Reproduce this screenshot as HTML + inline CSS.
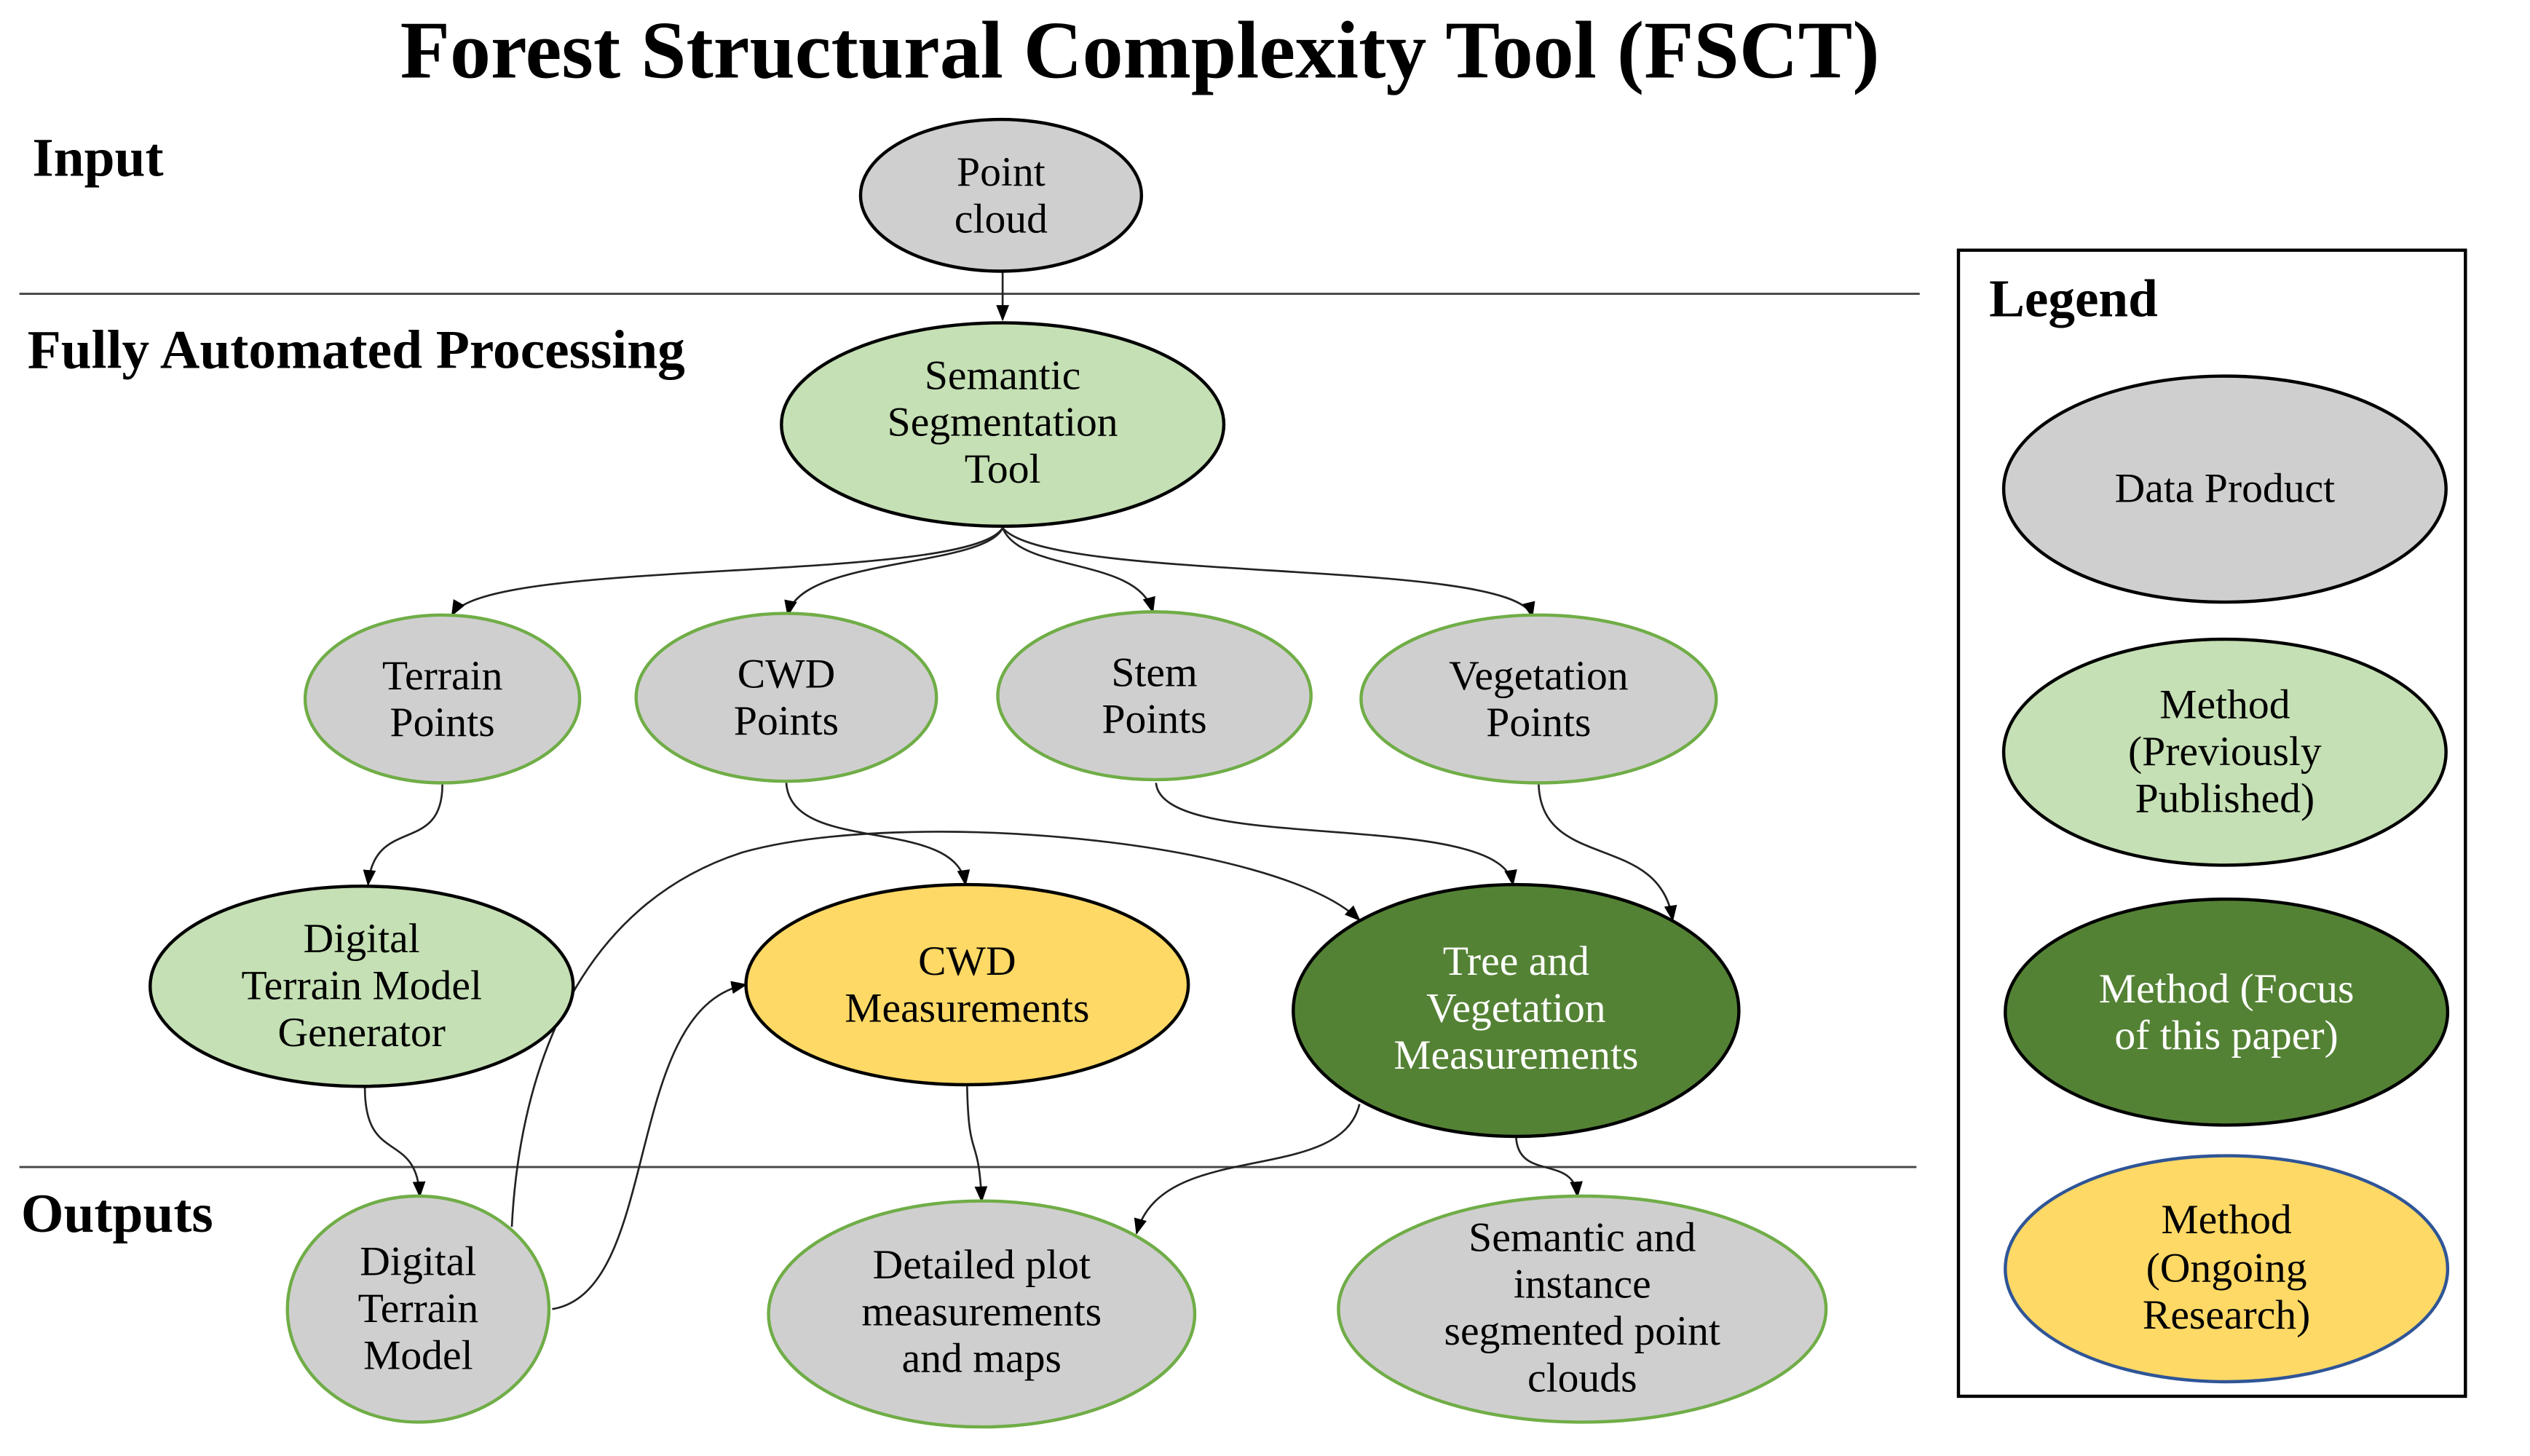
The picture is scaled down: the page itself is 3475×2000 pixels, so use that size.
<!DOCTYPE html>
<html><head><meta charset="utf-8"><style>
html,body{margin:0;padding:0;background:#fff;}
svg{display:block;}
text{font-family:"Liberation Serif",serif;}
</style></head><body>
<svg width="3475" height="2000" viewBox="0 0 1567 902" preserveAspectRatio="none" xmlns="http://www.w3.org/2000/svg">
<defs>
<marker id="b" viewBox="0 0 10 10" refX="9" refY="5" markerWidth="10" markerHeight="10" orient="auto" markerUnits="userSpaceOnUse">
<path d="M0,1 L10,5 L0,9 z" fill="#000"/></marker>
</defs>
<rect width="1567" height="902" fill="#fff"/>
<text x="706" y="48" font-size="50.5" font-weight="bold" text-anchor="middle">Forest Structural Complexity Tool (FSCT)</text>
<text x="20" y="109" font-size="34" font-weight="bold">Input</text>
<text x="17" y="228" font-size="34" font-weight="bold">Fully  Automated Processing</text>
<text x="13" y="763" font-size="34" font-weight="bold">Outputs</text>
<line x1="12" y1="182" x2="1189" y2="182" stroke="#444" stroke-width="1.3"/>
<line x1="12" y1="723" x2="1187" y2="723" stroke="#444" stroke-width="1.3"/>

<g fill="none" stroke="#222" stroke-width="1.2" marker-end="url(#b)">
<path d="M621 168 L621 198"/>
<path d="M621 327 C600 362, 300 345, 280 381"/>
<path d="M621 327 C610 352, 495 345, 488 381"/>
<path d="M621 327 C632 355, 705 345, 714 379"/>
<path d="M621 327 C650 362, 940 345, 949 382"/>
<path d="M274 486 C274 530, 232 505, 228 548"/>
<path d="M487 485 C490 530, 592 505, 598 548"/>
<path d="M716 485 C720 530, 930 500, 937 548"/>
<path d="M953 486 C955 540, 1028 515, 1036 570"/>
<path d="M226 674 C226 722, 258 700, 260 741"/>
<path d="M317 760 C322 660, 360 560, 460 528 C560 500, 790 520, 842 570"/>
<path d="M342 811 C410 800, 385 625, 462 610"/>
<path d="M599 673 C600 722, 606 700, 608 744"/>
<path d="M842 684 C830 735, 720 705, 704 764"/>
<path d="M939 704 C940 732, 975 715, 977 741"/>
</g>

<g font-size="26" text-anchor="middle">
<ellipse cx="620" cy="121" rx="87" ry="47" fill="#d0cfd0" stroke="#000" stroke-width="2"/>
<text x="620" y="115">Point</text><text x="620" y="144">cloud</text>

<ellipse cx="621" cy="263" rx="137" ry="63" fill="#c5e0b4" stroke="#000" stroke-width="2"/>
<text x="621" y="241">Semantic</text><text x="621" y="270">Segmentation</text><text x="621" y="299">Tool</text>

<g fill="#d0cfd0" stroke="#70ad47" stroke-width="2">
<ellipse cx="274" cy="433" rx="85" ry="52"/>
<ellipse cx="487" cy="432" rx="93" ry="52"/>
<ellipse cx="715" cy="431" rx="97" ry="52"/>
<ellipse cx="953" cy="433" rx="110" ry="52"/>
<ellipse cx="259" cy="811" rx="81" ry="70"/>
<ellipse cx="608" cy="814" rx="132" ry="70"/>
<ellipse cx="980" cy="811" rx="151" ry="70"/>
</g>
<text x="274" y="427">Terrain</text><text x="274" y="456">Points</text>
<text x="487" y="426">CWD</text><text x="487" y="455">Points</text>
<text x="715" y="425">Stem</text><text x="715" y="454">Points</text>
<text x="953" y="427">Vegetation</text><text x="953" y="456">Points</text>

<ellipse cx="224" cy="611" rx="131" ry="62" fill="#c5e0b4" stroke="#000" stroke-width="2"/>
<text x="224" y="590">Digital</text><text x="224" y="619">Terrain Model</text><text x="224" y="648">Generator</text>

<ellipse cx="599" cy="610" rx="137" ry="62" fill="#ffd966" stroke="#000" stroke-width="2"/>
<text x="599" y="604">CWD</text><text x="599" y="633">Measurements</text>

<ellipse cx="939" cy="626" rx="138" ry="78" fill="#548235" stroke="#000" stroke-width="2"/>
<g fill="#fff"><text x="939" y="604">Tree and</text><text x="939" y="633">Vegetation</text><text x="939" y="662">Measurements</text></g>

<text x="259" y="790">Digital</text><text x="259" y="819">Terrain</text><text x="259" y="848">Model</text>
<text x="608" y="792">Detailed plot</text><text x="608" y="821">measurements</text><text x="608" y="850">and maps</text>
<text x="980" y="775">Semantic and</text><text x="980" y="804">instance</text><text x="980" y="833">segmented point</text><text x="980" y="862">clouds</text>

<rect x="1213" y="155" width="314" height="710" fill="none" stroke="#000" stroke-width="2"/>
<text x="1232" y="196" font-size="33" font-weight="bold" text-anchor="start">Legend</text>
<ellipse cx="1378" cy="303" rx="137" ry="70" fill="#d0cfd0" stroke="#000" stroke-width="2"/>
<text x="1378" y="311">Data Product</text>
<ellipse cx="1378" cy="466" rx="137" ry="70" fill="#c5e0b4" stroke="#000" stroke-width="2"/>
<text x="1378" y="445">Method</text><text x="1378" y="474">(Previously</text><text x="1378" y="503">Published)</text>
<ellipse cx="1379" cy="627" rx="137" ry="70" fill="#548235" stroke="#000" stroke-width="2"/>
<g fill="#fff"><text x="1379" y="621">Method (Focus</text><text x="1379" y="650">of this paper)</text></g>
<ellipse cx="1379" cy="786" rx="137" ry="70" fill="#ffd966" stroke="#2f5597" stroke-width="2"/>
<text x="1379" y="764">Method</text><text x="1379" y="794">(Ongoing</text><text x="1379" y="823">Research)</text>
</g>
</svg>
</body></html>
